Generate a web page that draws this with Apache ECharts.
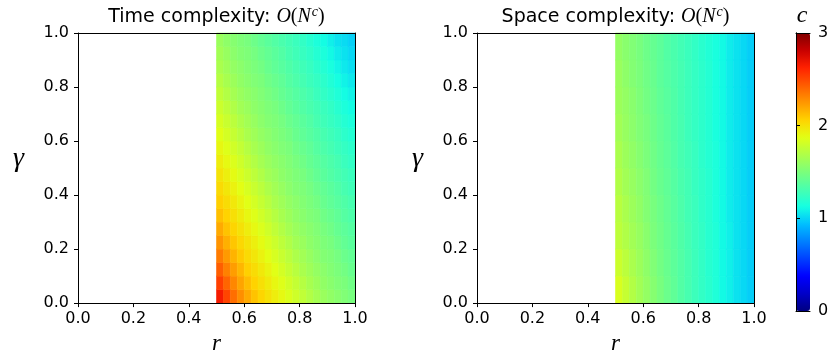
<!DOCTYPE html>
<html><head><meta charset="utf-8">
<script src="https://cdn.jsdelivr.net/npm/echarts/dist/echarts.min.js"></script>
<style>html,body{margin:0;padding:0;background:#fff}#c{width:832px;height:360px}</style>
</head><body><div id="c"></div>
<script>
// cell centres (r) shared by both panels
const rCenters = [0.5125,0.5375,0.5625,0.5875,0.6125,0.6375,0.6625,0.6875,0.7125,0.7375,0.7625,0.7875,0.8125,0.8375,0.8625,0.8875,0.9125,0.9375,0.9625,0.9875];
// cell centres (gamma)
const timeGamma = [0.025,0.075,0.125,0.175,0.225,0.275,0.325,0.375,0.425,0.475,0.525,0.575,0.625,0.675,0.725,0.775,0.825,0.875,0.925,0.975];
const spaceGamma = [0.05,0.15,0.25,0.35,0.45,0.55,0.65,0.75,0.85,0.95];
// exponent c, one row per gamma (bottom row first)
const timeC = [
[2.66,2.51,2.38,2.28,2.19,2.11,2.05,2.00,1.95,1.90,1.85,1.80,1.75,1.70,1.65,1.61,1.58,1.55,1.52,1.49],
[2.53,2.41,2.30,2.21,2.13,2.06,2.01,1.96,1.91,1.86,1.81,1.76,1.71,1.66,1.62,1.58,1.55,1.52,1.50,1.46],
[2.43,2.32,2.23,2.15,2.07,2.02,1.97,1.92,1.87,1.82,1.77,1.72,1.67,1.63,1.59,1.56,1.53,1.50,1.47,1.43],
[2.34,2.24,2.16,2.09,2.03,1.98,1.93,1.88,1.83,1.78,1.73,1.68,1.64,1.60,1.56,1.53,1.51,1.48,1.44,1.41],
[2.26,2.17,2.10,2.04,1.99,1.94,1.89,1.84,1.79,1.74,1.69,1.64,1.61,1.57,1.54,1.51,1.49,1.45,1.41,1.38],
[2.19,2.11,2.05,2.00,1.95,1.90,1.85,1.80,1.75,1.70,1.65,1.61,1.58,1.55,1.52,1.49,1.46,1.42,1.39,1.36],
[2.12,2.06,2.01,1.96,1.91,1.86,1.81,1.76,1.71,1.66,1.62,1.58,1.55,1.52,1.50,1.46,1.43,1.40,1.36,1.33],
[2.07,2.02,1.97,1.92,1.87,1.82,1.77,1.72,1.67,1.63,1.59,1.56,1.53,1.50,1.47,1.43,1.40,1.37,1.34,1.31],
[2.03,1.98,1.93,1.88,1.83,1.78,1.73,1.68,1.64,1.60,1.56,1.53,1.51,1.48,1.44,1.41,1.38,1.35,1.31,1.28],
[1.99,1.94,1.89,1.84,1.79,1.74,1.69,1.64,1.61,1.57,1.54,1.51,1.49,1.45,1.41,1.38,1.35,1.32,1.29,1.26],
[1.95,1.90,1.85,1.80,1.75,1.70,1.65,1.61,1.58,1.55,1.52,1.49,1.46,1.42,1.39,1.36,1.33,1.30,1.26,1.23],
[1.91,1.86,1.81,1.76,1.71,1.66,1.62,1.58,1.55,1.52,1.50,1.46,1.43,1.40,1.36,1.33,1.30,1.27,1.24,1.21],
[1.87,1.82,1.77,1.72,1.67,1.63,1.59,1.56,1.53,1.50,1.47,1.43,1.40,1.37,1.34,1.31,1.28,1.25,1.21,1.18],
[1.83,1.78,1.73,1.68,1.64,1.60,1.56,1.53,1.51,1.48,1.44,1.41,1.38,1.35,1.31,1.28,1.25,1.22,1.18,1.15],
[1.79,1.74,1.69,1.64,1.61,1.57,1.54,1.51,1.49,1.45,1.41,1.38,1.35,1.32,1.29,1.26,1.23,1.19,1.15,1.12],
[1.75,1.70,1.65,1.61,1.58,1.55,1.52,1.49,1.46,1.42,1.39,1.36,1.33,1.30,1.26,1.23,1.20,1.16,1.12,1.09],
[1.71,1.66,1.62,1.58,1.55,1.52,1.50,1.46,1.43,1.40,1.36,1.33,1.30,1.27,1.24,1.21,1.17,1.13,1.09,1.06],
[1.67,1.63,1.59,1.56,1.53,1.50,1.47,1.43,1.40,1.37,1.34,1.31,1.28,1.25,1.21,1.18,1.14,1.10,1.06,1.03],
[1.64,1.60,1.56,1.53,1.51,1.48,1.44,1.41,1.38,1.35,1.31,1.28,1.25,1.22,1.18,1.15,1.11,1.07,1.04,1.01],
[1.61,1.57,1.54,1.51,1.49,1.45,1.41,1.38,1.35,1.32,1.29,1.26,1.23,1.19,1.15,1.12,1.08,1.04,1.02,0.99]
];
const spaceC = [
[1.84,1.77,1.70,1.64,1.59,1.54,1.49,1.44,1.40,1.35,1.31,1.27,1.23,1.20,1.16,1.11,1.08,1.04,1.01,0.98],
[1.79,1.73,1.67,1.62,1.57,1.52,1.47,1.43,1.39,1.35,1.31,1.27,1.23,1.19,1.16,1.11,1.08,1.04,1.01,0.98],
[1.74,1.69,1.64,1.60,1.55,1.50,1.46,1.42,1.38,1.34,1.30,1.26,1.23,1.19,1.16,1.11,1.08,1.04,1.01,0.98],
[1.72,1.67,1.62,1.58,1.53,1.49,1.45,1.41,1.37,1.33,1.29,1.26,1.22,1.19,1.15,1.11,1.07,1.04,1.01,0.98],
[1.69,1.64,1.60,1.56,1.52,1.47,1.43,1.40,1.36,1.32,1.29,1.25,1.22,1.19,1.15,1.11,1.07,1.04,1.01,0.98],
[1.67,1.62,1.58,1.54,1.50,1.46,1.42,1.39,1.35,1.31,1.28,1.25,1.21,1.18,1.15,1.11,1.07,1.04,1.01,0.98],
[1.64,1.60,1.56,1.52,1.49,1.45,1.41,1.38,1.34,1.31,1.27,1.24,1.21,1.18,1.14,1.11,1.07,1.04,1.01,0.98],
[1.62,1.59,1.55,1.51,1.47,1.44,1.40,1.37,1.34,1.30,1.27,1.24,1.21,1.18,1.14,1.11,1.07,1.04,1.01,0.98],
[1.61,1.57,1.53,1.50,1.46,1.43,1.39,1.36,1.33,1.30,1.27,1.24,1.21,1.18,1.14,1.11,1.07,1.04,1.01,0.98],
[1.59,1.55,1.52,1.49,1.45,1.42,1.39,1.35,1.32,1.29,1.26,1.23,1.20,1.17,1.14,1.11,1.07,1.04,1.01,0.98]
];
const axisTicks = [0, 0.2, 0.4, 0.6, 0.8, 1.0];
const colorbarTicks = [0, 1, 2, 3];
const titles = ['Time complexity: ', 'Space complexity: '];

const jet = ['#000080','#0000c8','#0000ff','#0040ff','#0080ff','#00bfff','#15ffe2','#48ffaf','#7bff7b','#afff48','#e2ff15','#ffd200','#ff9700','#ff5c00','#ff2100','#c80000','#800000'];

function cells(gammas, rows) {
  const out = [];
  rows.forEach((row, j) => row.forEach((v, i) => out.push([rCenters[i], gammas[j], v])));
  return out;
}
function makeRender(gammas) {
  const dr = (rCenters[1] - rCenters[0]) / 2, dg = (gammas[1] - gammas[0]) / 2;
  return function (params, api) {
    const r = api.value(0), g = api.value(1);
    const p0 = api.coord([r - dr, g + dg]);
    const p1 = api.coord([r + dr, g - dg]);
    const c = api.visual('color');
    return { type: 'rect', shape: { x: p0[0], y: p0[1], width: p1[0] - p0[0], height: p1[1] - p0[1] },
      style: { fill: c, stroke: c, lineWidth: 0.6 } };
  };
}
const SANS = 'DejaVu Sans';
const SERIF = 'Liberation Serif';
const lbl = { fontFamily: SANS, fontSize: 16, color: '#000' };
function mainX(gi, name) {
  return { gridIndex: gi, type: 'value', min: axisTicks[0], max: axisTicks[axisTicks.length - 1], interval: axisTicks[1] - axisTicks[0],
    position: 'bottom', z: 10,
    axisLine: { show: true, lineStyle: { color: '#000', width: 1 } },
    axisTick: { show: true, length: 4, lineStyle: { color: '#000', width: 1 } },
    axisLabel: Object.assign({ margin: 8, formatter: v => v.toFixed(1) }, lbl),
    splitLine: { show: false },
    name: name, nameLocation: 'middle', nameGap: 24,
    nameTextStyle: { fontFamily: SERIF, fontStyle: 'italic', fontSize: 23, color: '#000' } };
}
function mainY(gi, name) {
  return { gridIndex: gi, type: 'value', min: axisTicks[0], max: axisTicks[axisTicks.length - 1], interval: axisTicks[1] - axisTicks[0],
    position: 'left', z: 10,
    axisLine: { show: true, lineStyle: { color: '#000', width: 1 } },
    axisTick: { show: true, length: 4, lineStyle: { color: '#000', width: 1 } },
    axisLabel: Object.assign({ margin: 9, formatter: v => v.toFixed(1) }, lbl),
    splitLine: { show: false },
    name: name, nameLocation: 'middle', nameGap: 54, nameRotate: 0,
    nameTextStyle: { fontFamily: SERIF, fontStyle: 'italic', fontSize: 28, color: '#000', verticalAlign: 'bottom', lineHeight: 18 } };
}
function lineOnly(gi, pos) {
  return { gridIndex: gi, type: 'value', min: 0, max: 1, position: pos, z: 10,
    axisLine: { show: true, onZero: false, lineStyle: { color: '#000', width: 1 } },
    axisTick: { show: false }, axisLabel: { show: false }, splitLine: { show: false } };
}

const option = {
  animation: false,
  backgroundColor: '#fff',
  grid: [
    { left: 78, top: 33, width: 277, height: 278 },
    { left: 477, top: 33, width: 277, height: 278 },
    { left: 796, top: 33, width: 14, height: 278 }
  ],
  xAxis: [
    mainX(0, 'r'), lineOnly(0, 'top'),
    mainX(1, 'r'), lineOnly(1, 'top'),
    lineOnly(2, 'bottom'), lineOnly(2, 'top')
  ],
  yAxis: [
    mainY(0, 'γ'), lineOnly(0, 'right'),
    mainY(1, 'γ'), lineOnly(1, 'right'),
    { gridIndex: 2, type: 'value', min: colorbarTicks[0], max: colorbarTicks[colorbarTicks.length - 1], interval: 1, position: 'right', z: 10,
      axisLine: { show: true, lineStyle: { color: '#000', width: 1 } },
      axisTick: { show: true, length: 4, lineStyle: { color: '#000', width: 1 } },
      axisLabel: Object.assign({ margin: 8 }, lbl), splitLine: { show: false } },
    lineOnly(2, 'left')
  ],
  visualMap: {
    type: 'continuous', min: colorbarTicks[0], max: colorbarTicks[colorbarTicks.length - 1], dimension: 2, seriesIndex: [0, 1],
    inRange: { color: jet }, calculable: false, hoverLink: false,
    left: 796, top: 33, itemWidth: 14, itemHeight: 278, padding: 0, text: null, z: 4
  },
  series: [
    { type: 'custom', xAxisIndex: 0, yAxisIndex: 0, data: cells(timeGamma, timeC), renderItem: makeRender(timeGamma),
      encode: { x: 0, y: 1 }, dimensions: ['r', 'gamma', 'c'], silent: true, z: 2 },
    { type: 'custom', xAxisIndex: 2, yAxisIndex: 2, data: cells(spaceGamma, spaceC), renderItem: makeRender(spaceGamma),
      encode: { x: 0, y: 1 }, dimensions: ['r', 'gamma', 'c'], silent: true, z: 2 }
  ],
  graphic: [
    ...titles.map((t, k) => ({
      type: 'text', x: k === 0 ? 216.5 : 615.5, y: 17,
      style: { text: '{a|' + t + '}{m|O}{p|(}{m|N}{s|c}{p|)}',
        rich: {
          a: { fontFamily: SANS, fontSize: 19, color: '#000', lineHeight: 24 },
          m: { fontFamily: SERIF, fontStyle: 'italic', fontSize: 20, color: '#000', lineHeight: 24 },
          p: { fontFamily: SERIF, fontSize: 20, color: '#000', lineHeight: 24 },
          s: { fontFamily: SERIF, fontStyle: 'italic', fontSize: 14, color: '#000', lineHeight: 24, verticalAlign: 'top', padding: [0, 0, 4, 1] }
        },
        align: 'center', verticalAlign: 'middle' }
    })),
    { type: 'text', x: 802, y: 16, style: { text: 'c', fontFamily: SERIF, fontStyle: 'italic', fontSize: 24, fill: '#000', align: 'center', verticalAlign: 'middle' } }
  ]
};
const chart = echarts.init(document.getElementById('c'), null, { renderer: 'canvas' });
chart.setOption(option);
</script>
</body></html>
